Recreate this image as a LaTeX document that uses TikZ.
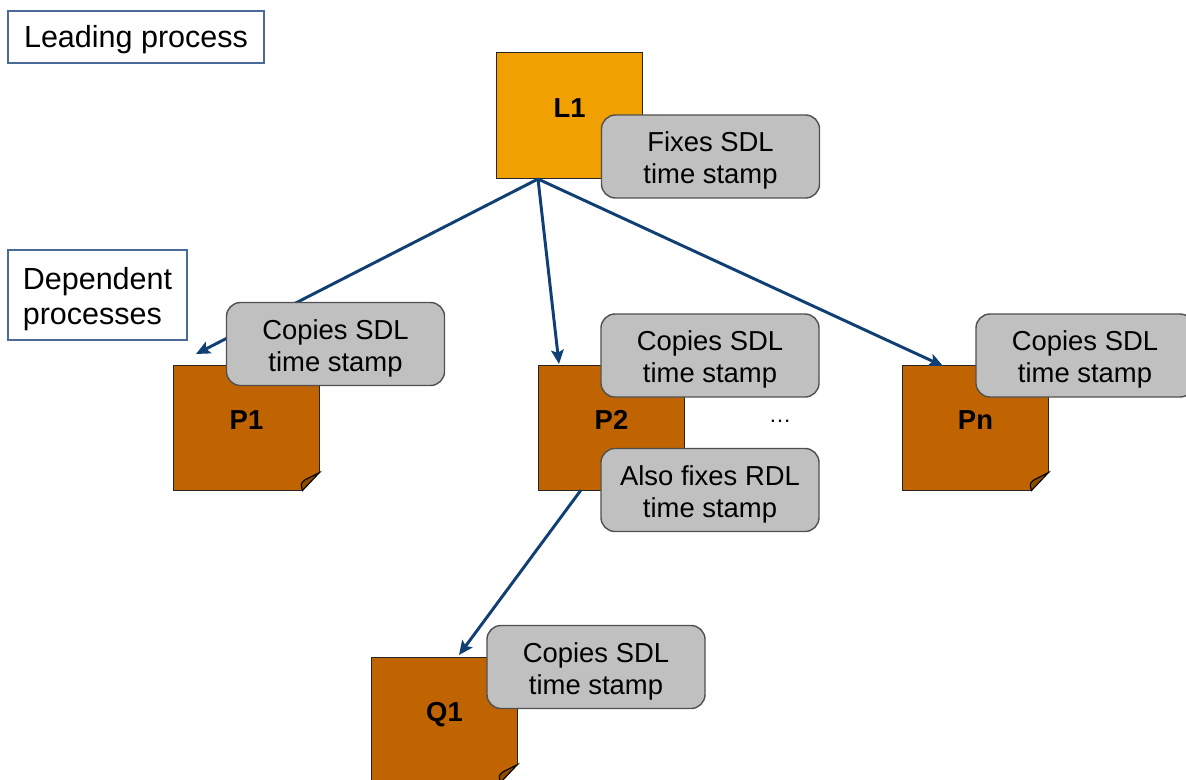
\documentclass[tikz,border=0pt]{standalone}
\usepackage{fontspec}
\setmainfont{Liberation Sans}
\usetikzlibrary{arrows.meta,calc}
\definecolor{leadorange}{HTML}{F0A000}
\definecolor{depbrown}{HTML}{BF6400}
\definecolor{foldbrown}{HTML}{8E4C00}
\definecolor{notegray}{HTML}{C0C0C0}
\definecolor{noteline}{HTML}{505050}
\definecolor{flowblue}{HTML}{0F3F73}
\definecolor{tagline}{HTML}{4A6A9A}
\newcommand\dogear[1]{%
  \fill[white] ($(#1.south east)+(-17,0)$) -- ($(#1.south east)+(-17,2)$) -- ($(#1.south east)+(2,2)$)
    -- ($(#1.south east)+(2,-18)$) -- ($(#1.south east)+(0,-18)$) -- cycle;
  \draw[line width=0.8pt,fill=foldbrown] ($(#1.south east)+(-17,0)$) .. controls ($(#1.south east)+(-19,-7)$) .. ($(#1.south east)+(-14,-11)$)
    -- ($(#1.south east)+(0,-18)$) -- cycle;
}
\newcommand\notetext[2]{\rule{0pt}{20pt}#1\\#2}
\begin{document}
\begin{tikzpicture}[x=0.025cm,y=-0.025cm,
    proc/.style={draw=black!85,line width=0.7pt,minimum width=3.625cm,minimum height=3.125cm,inner sep=0pt,
      text height=14pt,text depth=10.5pt,font=\fontsize{19.5}{23}\selectfont\bfseries},
    note/.style={draw=noteline,fill=notegray,line width=1pt,rounded corners=10pt,minimum width=5.45cm,
      minimum height=2.075cm,inner sep=2pt,align=center,font=\fontsize{19.5}{22.7}\selectfont},
    tag/.style={draw=tagline,fill=white,line width=0.8pt,inner sep=0pt,font=\fontsize{21.7}{25}\selectfont},
    flow/.style={draw=flowblue,line width=2.1pt,-{Stealth[length=10pt,width=9pt,inset=2pt]}}]
  \clip (0,0) rectangle (1186,779);
  \useasboundingbox (0,0) rectangle (1186,779);
  \node[tag,minimum width=6.4cm,minimum height=1.3cm,text height=20pt] (leadtag) at (136,37) {Leading process};
  \node[tag,align=left,minimum width=4.475cm,minimum height=2.25cm] (deptag) at (97.5,295) {\rule{0pt}{21pt}Dependent\\processes};
  \node[proc,fill=leadorange] (l1) at (569.5,115.5) {L1};
  \node[proc,fill=depbrown] (p1) at (246.5,427.5) {P1};
  \node[proc,fill=depbrown] (p2) at (611.5,427.5) {P2};
  \node[proc,fill=depbrown] (pn) at (975.5,427.5) {Pn};
  \node[proc,fill=depbrown] (q1) at (444.5,719.5) {Q1};
  \dogear{p1}
  \dogear{pn}
  \dogear{q1}
  \node[font=\fontsize{16}{18}\selectfont] (dots) at (780,421) {…};
  \coordinate (l1root) at (538,179);
  \coordinate (p1tip) at (196,354);
  \coordinate (p2tip) at (559,364);
  \coordinate (pntip) at (943,366);
  \coordinate (p2root) at (581,490);
  \coordinate (q1tip) at (459,655);
  \draw[flow] (l1root) -- (p1tip);
  \draw[flow] (l1root) -- (p2tip);
  \draw[flow] (l1root) -- (pntip);
  \draw[flow] (p2root) -- (q1tip);
  \node[note] (l1note) at (710.5,156.5) {\notetext{Fixes SDL}{time stamp}};
  \node[note] (p1note) at (335.5,344) {\notetext{Copies SDL}{time stamp}};
  \node[note] (p2note) at (710,355.5) {\notetext{Copies SDL}{time stamp}};
  \node[note] (p2extra) at (710,490) {\notetext{Also fixes RDL}{time stamp}};
  \node[note] (pnnote) at (1085,355.5) {\notetext{Copies SDL}{time stamp}};
  \node[note] (q1note) at (596,667) {\notetext{Copies SDL}{time stamp}};
\end{tikzpicture}
\end{document}
